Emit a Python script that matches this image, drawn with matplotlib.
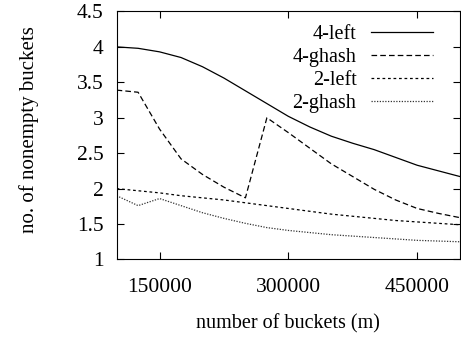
import matplotlib
matplotlib.use('Agg')
import matplotlib.pyplot as plt

# number of buckets (m)
m = [100000, 125000, 150000, 175000, 200000, 225000, 250000, 275000, 300000,
     325000, 350000, 375000, 400000, 425000, 450000, 475000, 500000]

left4 = [4.00, 3.98, 3.93, 3.85, 3.72, 3.56, 3.38, 3.20, 3.02,
         2.87, 2.74, 2.64, 2.55, 2.44, 2.33, 2.25, 2.17]
ghash4 = [3.39, 3.36, 2.84, 2.42, 2.20, 2.02, 1.87, 3.00, 2.79,
          2.57, 2.35, 2.17, 1.99, 1.84, 1.72, 1.65, 1.59]
left2 = [2.00, 1.97, 1.94, 1.90, 1.87, 1.84, 1.80, 1.76, 1.72,
         1.68, 1.64, 1.61, 1.58, 1.55, 1.53, 1.51, 1.49]
ghash2 = [1.90, 1.76, 1.86, 1.76, 1.66, 1.58, 1.51, 1.45, 1.41,
          1.38, 1.35, 1.33, 1.31, 1.29, 1.27, 1.26, 1.25]

xticks = [150000, 300000, 450000]
yticks = [1, 1.5, 2, 2.5, 3, 3.5, 4, 4.5]
ytick_labels = ['1', '1.5', '2', '2.5', '3', '3.5', '4', '4.5']

plt.rcParams['font.family'] = ['Liberation Serif', 'DejaVu Serif']
plt.rcParams['font.size'] = 14.5

fig = plt.figure(figsize=(4.61, 3.37), dpi=100)
ax = fig.add_axes([0.253, 0.230, 0.745, 0.736])

lw = 0.9
ax.plot(m, left4, color='black', lw=lw, label='4-left')
ax.plot(m, ghash4, color='black', lw=lw, dashes=(4.5, 2.5), label='4-ghash')
ax.plot(m, left2, color='black', lw=lw, dashes=(2.2, 2.2), label='2-left')
ax.plot(m, ghash2, color='#333333', lw=lw, dashes=(1.0, 1.2), label='2-ghash')

ax.set_xlim(100000, 500000)
ax.set_ylim(1, 4.5)
ax.set_xticks(xticks)
ax.set_xticklabels([str(t) for t in xticks])
ax.set_yticks(yticks)
ax.set_yticklabels(ytick_labels)
ax.tick_params(direction='in', length=5, width=0.8, pad=9.5, labelsize=15.5,
               top=True, right=True)
ax.tick_params(axis='x', pad=13)
for s in ax.spines.values():
    s.set_linewidth(0.8)

ax.set_xlabel('number of buckets (m)')
ax.set_ylabel('no. of nonempty buckets', fontsize=15)
ax.xaxis.set_label_coords(0.5, -0.222)
ax.yaxis.set_label_coords(-0.225, 0.522)

ax.legend(loc='upper right', bbox_to_anchor=(0.921, 0.947), frameon=False,
          markerfirst=False, handlelength=3.1, handletextpad=0.7,
          labelspacing=0.2, borderpad=0, borderaxespad=0)

fig.savefig('out.png', dpi=100)
